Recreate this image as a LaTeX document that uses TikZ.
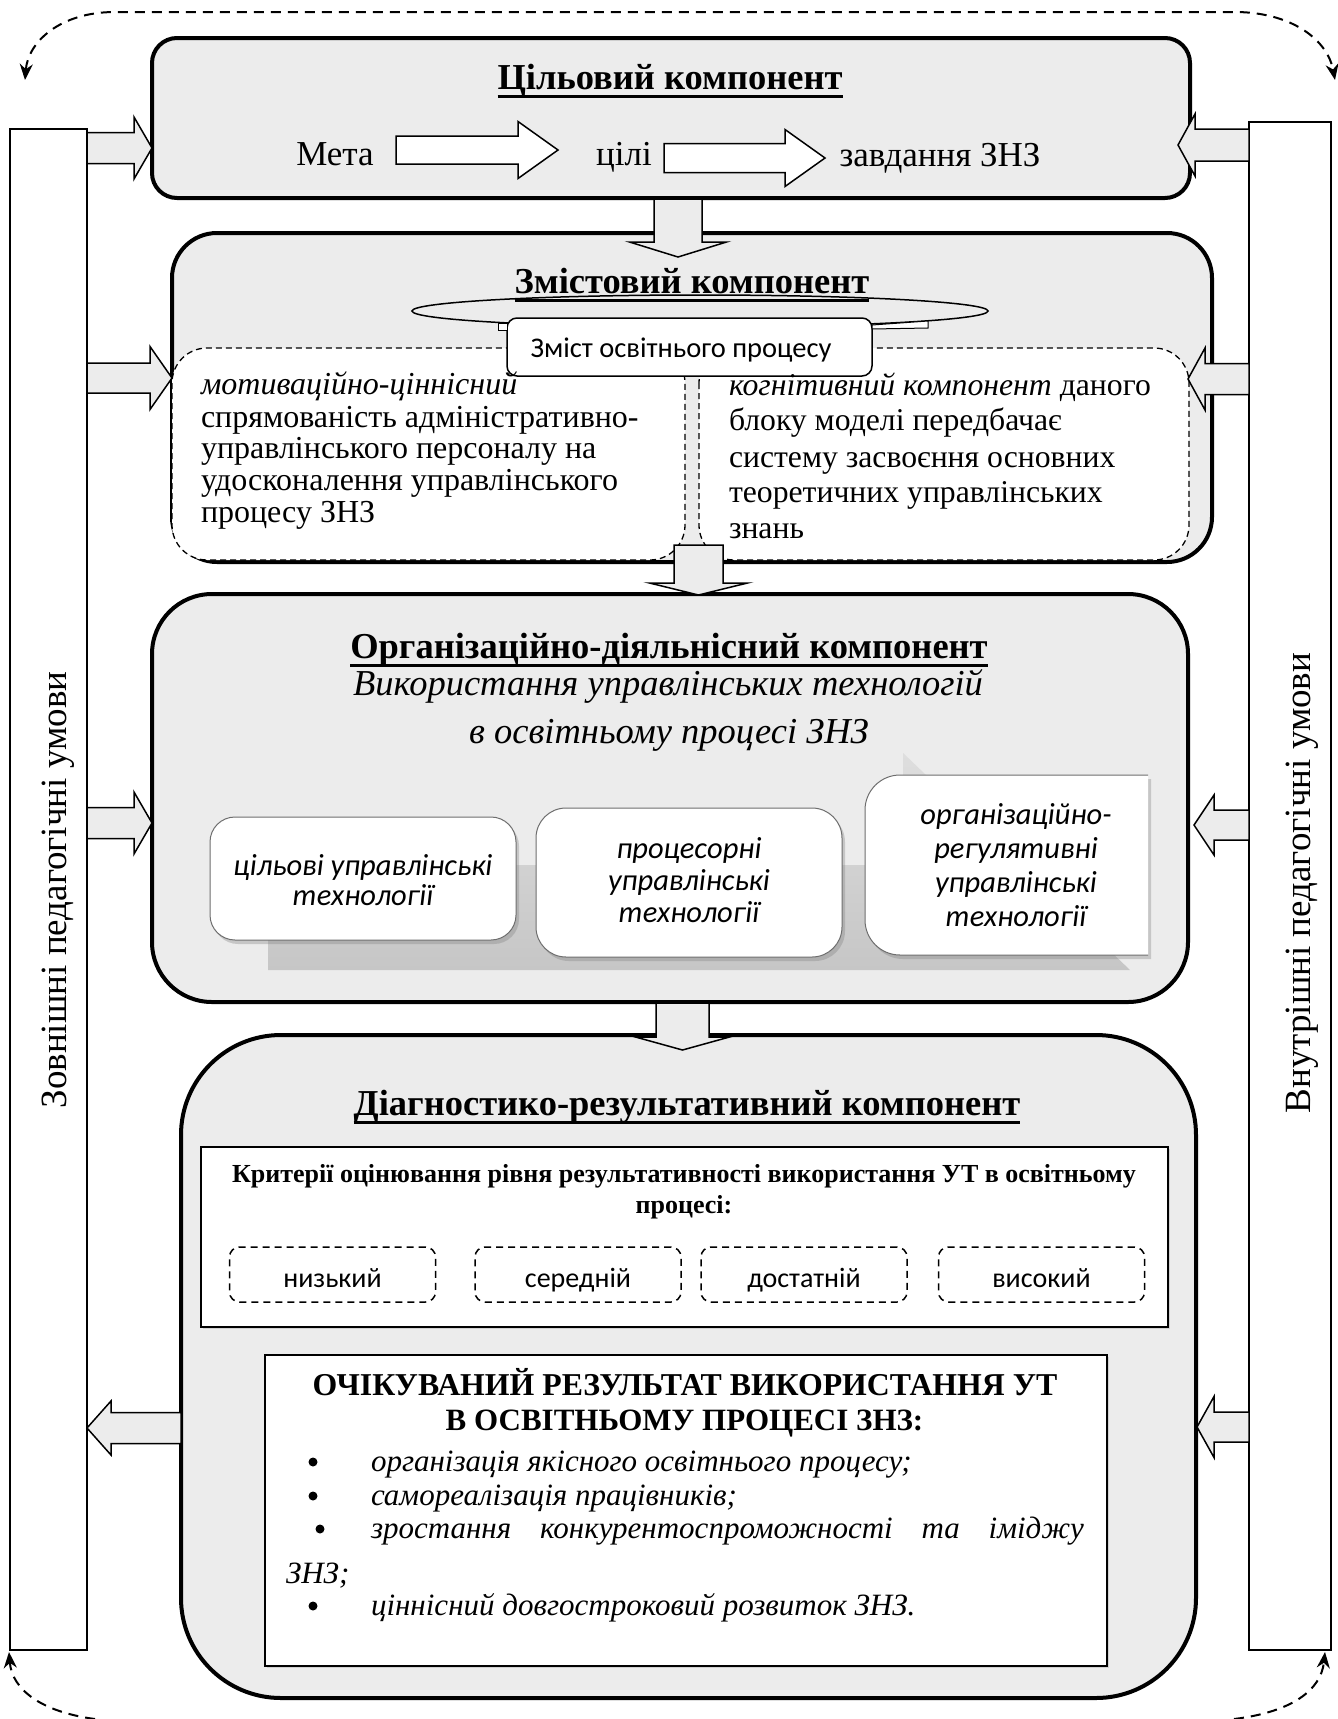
\documentclass[tikz,border=0pt]{standalone}
\usepackage{fontspec}
\setmainfont{Liberation Serif}
\newfontfamily\carlito{Carlito}
\usetikzlibrary{arrows.meta,shadows}
\definecolor{boxgray}{RGB}{236,236,236}
\definecolor{sagrayA}{RGB}{222,222,222}
\definecolor{sagrayB}{RGB}{198,198,198}
\definecolor{saedge}{RGB}{110,110,110}
\newcommand\fsz[1]{\fontsize{#1}{#1}\selectfont}
\newcommand\hbarrow[7]{\draw[#7] (#1,#4-#5) -- (#2,#4-#5) -- (#2,#4-#6) -- (#3,#4) -- (#2,#4+#6) -- (#2,#4+#5) -- (#1,#4+#5) -- cycle;}
\newcommand\vbarrow[7]{\draw[#7] (#1-#5,#2) -- (#1-#5,#3) -- (#1-#6,#3) -- (#1,#4) -- (#1+#6,#3) -- (#1+#5,#3) -- (#1+#5,#2) -- cycle;}
\begin{document}
\begin{tikzpicture}[x=1pt,y=-1pt,
  bigbox/.style={draw=black,line width=4pt,fill=boxgray,rounded corners=#1,inner sep=0pt,outer sep=0pt},
  sidebar/.style={draw=black,line width=1.5pt,fill=white,inner sep=0pt,outer sep=0pt},
  sidearrow/.style={draw=black,line width=1.5pt,fill=boxgray,line join=miter},
  innerarrow/.style={draw=black,line width=1.5pt,fill=white,line join=miter},
  lbl/.style={inner sep=0pt,outer sep=0pt,anchor=base},
  lblw/.style={inner sep=0pt,outer sep=0pt,anchor=base west},
  ttl/.style={lbl,font=\fsz{36.5}\bfseries},
  uline/.style={line width=3pt},
  outerdash/.style={line width=2pt,dash pattern=on 10pt off 7pt},
  innerdash/.style={draw=black,line width=1.3pt,dash pattern=on 6pt off 4pt,fill=white,rounded corners=35pt},
  levelbox/.style={draw=black,line width=1.5pt,dash pattern=on 7pt off 5pt,rounded corners=10pt,minimum width=206pt,minimum height=55pt,inner sep=0pt},
  sabox/.style={draw=saedge,line width=1pt,fill=white,rounded corners=#1,drop shadow={shadow xshift=3pt,shadow yshift=-4pt,opacity=0.35}},
  whiterect/.style={draw=black,line width=1.8pt,fill=white,inner sep=0pt,drop shadow={shadow xshift=2pt,shadow yshift=-2pt,opacity=0.25}},
  cal/.style={lbl,font=\carlito\itshape\fsz{30.5}},
  bodyL/.style={lblw,font=\fsz{32}},
  bodyR/.style={lblw,font=\fsz{31.7}},
  item/.style={lblw,font=\fsz{31}\itshape},
  bullet/.style={circle,fill=black,inner sep=0pt,minimum size=9pt}
]
\useasboundingbox (0,0) rectangle (1338,1719);
\fill[white] (0,0) rectangle (1338,1719);

% outer dashed loop
\coordinate (otl) at (25,80);
\coordinate (otr) at (1335,80);
\coordinate (obl) at (9,1652);
\coordinate (obr) at (1325,1652);
\coordinate (obls) at (95,1719);
\coordinate (obrs) at (1234,1719);
\draw[outerdash,{Stealth[length=16pt,width=13pt]}-{Stealth[length=16pt,width=13pt]}] (otl) .. controls (28,42) and (60,12) .. (115,12) -- (1237,12) .. controls (1295,13) and (1328,42) .. (otr);
\draw[outerdash,-{Stealth[length=16pt,width=13pt]}] (obls) .. controls (42,1712) and (12,1690) .. (obl);
\draw[outerdash,-{Stealth[length=16pt,width=13pt]}] (obrs) .. controls (1292,1712) and (1321,1690) .. (obr);

% side bars
\node[sidebar,minimum width=77pt,minimum height=1521pt] (lbar) at (48.5,889.5) {};
\node[sidebar,minimum width=82pt,minimum height=1528pt] (rbar) at (1290,886) {};
\node[lbl,rotate=90,font=\fsz{37}] (ltext) at (66,890) {Зовнішні педагогічні умови};
\node[lbl,rotate=90,font=\fsz{37}] (rtext) at (1310,883) {Внутрішні педагогічні умови};

% main boxes
\node[bigbox=25pt,minimum width=1038pt,minimum height=160pt] (box1) at (671,118) {};
\node[bigbox=45pt,minimum width=1040pt,minimum height=329pt] (box2) at (692,397.5) {};
\node[bigbox=60pt,minimum width=1036pt,minimum height=408pt] (box3) at (670,798) {};
\node[bigbox=100pt,minimum width=1015pt,minimum height=663pt] (box4) at (688.5,1366.5) {};

% box 1
\node[ttl] (t1) at (670,89) {Цільовий компонент};
\draw[uline] ([yshift=-7pt]t1.base west) -- ([yshift=-7pt]t1.base east);
\node[lbl,font=\fsz{35}] (meta) at (335,165) {Мета};
\node[lbl,font=\fsz{35}] (cili) at (624,165) {цілі};
\node[lbl,font=\fsz{35}] (zavd) at (940,166) {завдання ЗНЗ};
\hbarrow{396}{518}{558}{150}{14}{28.5}{innerarrow}
\hbarrow{664}{785}{825}{158}{14.5}{28.5}{innerarrow}

% box 2
\draw[line width=1.5pt] (700,311) ellipse [x radius=288pt,y radius=16pt];
\draw[innerdash] (172,348) rectangle (685,560);
\draw[innerdash] (699,348) rectangle (1189,560);
\node[draw=black,line width=1.5pt,fill=white,rounded corners=10pt,minimum width=365pt,minimum height=58pt,inner sep=0pt] (zmist) at (689.5,347) {};
\node[lbl,font=\carlito\fsz{28.5}] (zmistt) at (681,357) {Зміст освітнього процесу};
\draw[line width=1pt,fill=white] (498,323) rectangle (507,330);
\draw[line width=1pt,fill=white] (872,325) -- (928,321) -- (928,328) -- (872,329) -- cycle;
\node[ttl] (t2) at (692,293) {Змістовий компонент};
\draw[uline] ([yshift=-7pt]t2.base west) -- ([yshift=-7pt]t2.base east);

\node[bodyL] (m1) at (201,394) {\textit{мотиваційно-ціннісний}};
\node[bodyL] (m2) at (201,427) {спрямованість адміністративно-};
\node[bodyL] (m3) at (201,458) {управлінського персоналу на};
\node[bodyL] (m4) at (201,490) {удосконалення управлінського};
\node[bodyL] (m5) at (201,522) {процесу ЗНЗ};
\node[bodyR] (k1) at (729,395) {\textit{когнітивний компонент} даного};
\node[bodyR] (k2) at (729,430) {блоку моделі передбачає};
\node[bodyR] (k3) at (729,467) {систему засвоєння основних};
\node[bodyR] (k4) at (729,502) {теоретичних управлінських};
\node[bodyR] (k5) at (729,538) {знань};

% box 3
\node[ttl] (t3) at (669,658) {Організаційно-діяльнісний компонент};
\draw[uline] ([yshift=-7pt]t3.base west) -- ([yshift=-7pt]t3.base east);
\node[lbl,font=\fsz{36.5}\itshape] (s31) at (668,695) {Використання управлінських технологій};
\node[lbl,font=\fsz{36.5}\itshape] (s32) at (669,743) {в освітньому процесі ЗНЗ};
\path[top color=sagrayA,bottom color=sagrayB] (268,865) -- (903,865) -- (903,753) -- (1130,970) -- (268,970) -- cycle;
\draw[sabox=25pt] (210,817) rectangle (516,940);
\draw[sabox=30pt] (536,808) rectangle (842,957);
\draw[sabox=35pt] (1148,775) -- (865,775) -- (865,955) -- (1148,955);
\node[cal] (a1) at (363,875) {цільові управлінські};
\node[cal] (a2) at (363,905) {технології};
\node[cal] (b1) at (689,858) {процесорні};
\node[cal] (b2) at (689,890) {управлінські};
\node[cal] (b3) at (689,922) {технології};
\node[cal] (c1) at (1016,824) {організаційно-};
\node[cal] (c2) at (1016,858) {регулятивні};
\node[cal] (c3) at (1016,892) {управлінські};
\node[cal] (c4) at (1016,926) {технології};

% box 4
\node[ttl] (t4) at (687,1115) {Діагностико-результативний компонент};
\draw[uline] ([yshift=-7pt]t4.base west) -- ([yshift=-7pt]t4.base east);
\node[whiterect,minimum width=967pt,minimum height=180pt] (crit) at (684.5,1237) {};
\node[lbl,font=\fsz{26}\bfseries] (cr1) at (684,1182) {Критерії оцінювання рівня результативності використання УТ в освітньому};
\node[lbl,font=\fsz{26}\bfseries] (cr2) at (684,1213) {процесі:};
\node[levelbox] (lv1) at (332.5,1274.5) {};
\node[levelbox] (lv2) at (578,1274.5) {};
\node[levelbox] (lv3) at (804,1274.5) {};
\node[levelbox] (lv4) at (1041.5,1274.5) {};
\node[lbl,font=\carlito\fsz{28}] (lt1) at (332.5,1287) {низький};
\node[lbl,font=\carlito\fsz{28}] (lt2) at (578,1287) {середній};
\node[lbl,font=\carlito\fsz{28}] (lt3) at (804,1287) {достатній};
\node[lbl,font=\carlito\fsz{28}] (lt4) at (1041.5,1287) {високий};
\node[whiterect,minimum width=842pt,minimum height=311pt] (res) at (686,1510.5) {};
\node[lbl,font=\fsz{31.8}\bfseries] (r1) at (685,1395) {ОЧІКУВАНИЙ РЕЗУЛЬТАТ ВИКОРИСТАННЯ УТ};
\node[lbl,font=\fsz{31}\bfseries] (r2) at (684.5,1430) {В ОСВІТНЬОМУ ПРОЦЕСІ ЗНЗ:};
\node[bullet] (bu1) at (313,1462) {};
\node[bullet] (bu2) at (313,1496) {};
\node[bullet] (bu3) at (320,1529) {};
\node[bullet] (bu4) at (313,1606) {};
\node[item] (i1) at (371,1471) {організація якісного освітнього процесу;};
\node[item] (i2) at (371,1505) {самореалізація працівників;};
\node[item] (i3) at (371,1538) {\makebox[713pt][s]{зростання конкурентоспроможності та іміджу}};
\node[item] (i3b) at (286,1583) {ЗНЗ;};
\node[item] (i4) at (371,1615) {ціннісний довгостроковий розвиток ЗНЗ.};

% block arrows
\hbarrow{87}{134}{152}{148}{15.5}{31}{sidearrow}
\hbarrow{87}{150}{172}{378}{15}{31.5}{sidearrow}
\hbarrow{87}{134}{152}{823}{15.5}{31}{sidearrow}
\hbarrow{181}{111}{87}{1428}{15.5}{27}{sidearrow}
\hbarrow{1249}{1195}{1178}{145}{16}{31}{sidearrow}
\hbarrow{1249}{1205}{1188}{379}{15.5}{31}{sidearrow}
\hbarrow{1249}{1214}{1194}{825}{15}{30}{sidearrow}
\hbarrow{1249}{1214}{1197}{1427}{15}{30.5}{sidearrow}
\vbarrow{678}{199}{242}{257}{24}{48.5}{sidearrow}
\vbarrow{698.5}{545}{583}{595}{24.5}{49}{sidearrow}
\vbarrow{682.5}{1003}{1037}{1050}{26.5}{47}{sidearrow}
\end{tikzpicture}
\end{document}
